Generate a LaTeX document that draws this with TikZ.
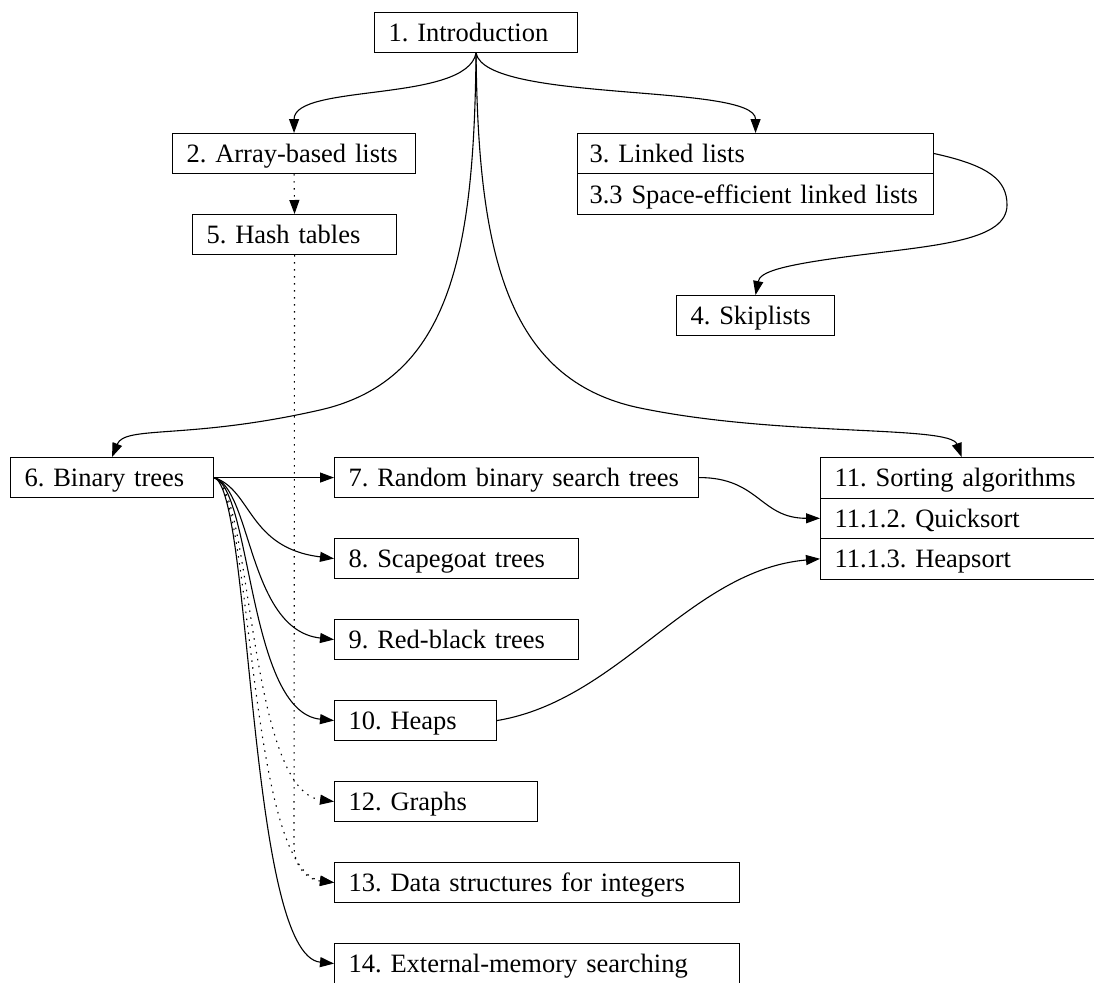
\documentclass[tikz,border=0pt]{standalone}
\usepackage{fontspec}
\setmainfont{Liberation Serif}
\usetikzlibrary{arrows.meta}

\newcommand\chapfont{\fontsize{26.5}{31}\selectfont\frenchspacing}

\tikzset{
  chapter/.style={draw, line width=1.1pt, anchor=north west, minimum height=40pt,
    inner xsep=14pt, inner ysep=0pt, text height=18pt, text depth=0pt,
    align=left, font=\chapfont},
  dep/.style={-{Triangle[length=14pt,width=10pt]}, line width=1.1pt},
  weak/.style={dep, dash pattern=on 1.5pt off 5.5pt},
}

\begin{document}
\begin{tikzpicture}[x=1pt, y=-1pt]
\useasboundingbox (0,0) rectangle (1094,982);
\clip (0,0) rectangle (1094,982);
% chapters, top part
\node[chapter, text width=175pt] (intro) at (374,12) {1. Introduction};
\node[chapter, text width=215pt] (arrays) at (172,133) {2. Array-based lists};
\node[chapter, text width=332pt, inner xsep=12pt] (linked) at (577,133) {3. Linked lists};
\node[chapter, text width=332pt, inner xsep=12pt, minimum height=41pt] (linkedse) at (577,173) {3.3 Space-efficient linked lists};
\node[chapter, text width=176pt] (hashing) at (192,214) {5. Hash tables};
\node[chapter, text width=130pt] (skiplists) at (676,295) {4. Skiplists};
\node[chapter, text width=175pt] (bintrees) at (10,457) {6. Binary trees};
% the trees column
\foreach \name/\y/\w/\title in
{
rbs/457/336/7. Random binary search trees,
scapegoat/538/216/8. Scapegoat trees,
redblack/619/216/9. Red-black trees,
heaps/700/134/10. Heaps,
graphs/781/175/12. Graphs,
integers/862/377/13. Data structures for integers,
extmem/943/377/14. External-memory searching}
\node[chapter, text width=\w pt] (\name) at (334,\y) {\title};
% sorting record
\node[chapter, text width=254pt, minimum height=40.5pt] (sorting) at (820,457) {11. Sorting algorithms};
\node[chapter, text width=254pt, minimum height=40.5pt] (quicksort) at (820,497.5) {11.1.2. Quicksort};
\node[chapter, text width=254pt, minimum height=40.5pt] (heapsort) at (820,538) {11.1.3. Heapsort};

% dependencies
\draw[dep] (intro.south) .. controls +(-10,50) and +(0,-50) .. (arrays.north);
\draw[dep] (intro.south) .. controls +(10,50) and +(0,-50) .. (linked.north);
\draw[dep] (intro.south) .. controls (474,250) and (452,380) .. (320,410) .. controls (188,440) and (125,425) .. (bintrees.north);
\draw[dep] (intro.south) .. controls (478,250) and (505,380) .. (640,408) .. controls (780,437) and (950,425) .. (sorting.north);
\draw[weak] (arrays.south) -- (hashing.north);
\draw[dep] (linked.east) .. controls +(55,12) and (1007,180) .. (1007,205) .. controls (1007,240) and (940,245) .. (860,255) .. controls (780,265) and (760,272) .. (skiplists.north);
\draw[weak] (hashing.south) -- (294,845) .. controls (294,870) and (310,880) .. (integers.west);
\draw[dep] (bintrees.east) -- (rbs.west);
\foreach \target/\kind/\c in {scapegoat/dep/548, redblack/dep/630, heaps/dep/712, graphs/weak/790, integers/weak/870, extmem/dep/955}
\draw[\kind] (bintrees.east) .. controls (252,490) and (248,\c) .. (\target.west);
\draw[dep] (rbs.east) .. controls +(60,0) and +(-60,0) .. (quicksort.west);
\draw[dep] (heaps.east) .. controls (620,700) and (690,570) .. (heapsort.west);
\end{tikzpicture}
\end{document}
